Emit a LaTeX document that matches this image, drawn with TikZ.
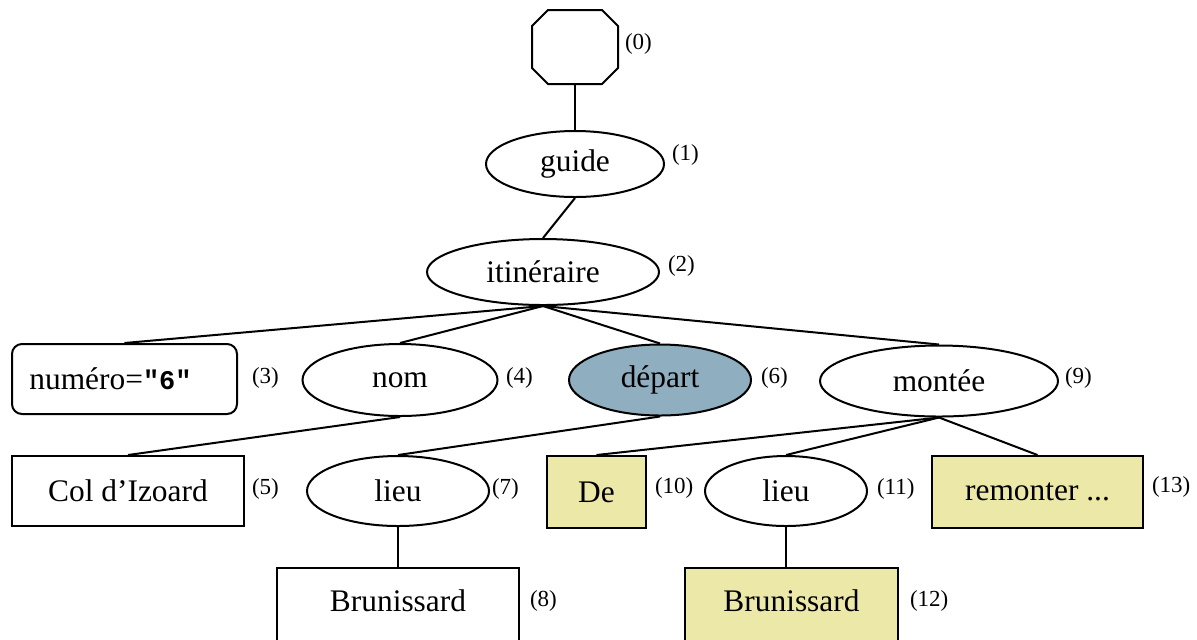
\documentclass[tikz,border=0pt]{standalone}
\usepackage{fontspec}
\setmainfont{Liberation Serif}
\setmonofont{Liberation Mono}
\usetikzlibrary{shapes.geometric}
\definecolor{bluegray}{RGB}{143,174,191}
\definecolor{paleyellow}{RGB}{236,232,168}

\begin{document}
\begin{tikzpicture}[x=0.5pt, y=-0.5pt, line width=1pt,
  every node/.style={inner sep=0pt, font=\fontsize{15.7}{18}\selectfont},
  elem/.style={draw, ellipse, line width=1pt},
  textbox/.style={draw, rectangle, line width=1pt},
  num/.style={anchor=west, font=\fontsize{11.5}{13}\selectfont}]
\useasboundingbox (0,0) rectangle (1197,639);
\node[minimum width=42pt, minimum height=36pt] (root) at (575,47) {};
\draw ([xshift=8pt]root.north west) -- ([xshift=-8pt]root.north east) -- ([yshift=-8pt]root.north east) -- ([yshift=8pt]root.south east) -- ([xshift=-8pt]root.south east) -- ([xshift=8pt]root.south west) -- ([yshift=8pt]root.south west) -- ([yshift=-8pt]root.north west) -- cycle;
\node[elem, minimum width=89pt, minimum height=33pt] (guide) at (575,164) {guide};
\node[elem, minimum width=116pt, minimum height=33pt] (itin) at (543,272) {itinéraire};
\node[textbox, rounded corners=5pt, minimum width=112.5pt, minimum height=35pt] (numero) at (124.5,379) {numéro={\fontsize{13.5}{15}\selectfont\ttfamily\bfseries"6"}\hspace*{14pt}};
\node[elem, minimum width=97.5pt, minimum height=36pt] (nom) at (400,380) {nom};
\node[elem, fill=bluegray, minimum width=91pt, minimum height=35.5pt] (depart) at (660,380) {départ};
\node[elem, minimum width=119pt, minimum height=35.5pt] (montee) at (939,381) {montée};
\node[textbox, minimum width=116pt, minimum height=35pt] (col) at (128,491) {Col d’Izoard};
\node[elem, minimum width=91pt, minimum height=35pt] (lieuA) at (398,491) {lieu};
\node[textbox, fill=paleyellow, minimum width=49.5pt, minimum height=36pt] (de) at (596.5,492) {De};
\node[elem, minimum width=81pt, minimum height=35pt] (lieuB) at (786,491) {lieu};
\node[textbox, fill=paleyellow, minimum width=105.5pt, minimum height=36pt] (remonter) at (1037.5,492) {remonter ...};
\node[textbox, anchor=north, text depth=5pt, minimum width=121pt, minimum height=38pt] (brunA) at (398,567) {Brunissard};
\node[textbox, fill=paleyellow, anchor=north, text depth=5pt, minimum width=106.5pt, minimum height=38pt] (brunB) at (791.5,567) {Brunissard};
% numeros
\node[num] (n0) at (624,44) {(0)};
\node[num] (n1) at (671,155) {(1)};
\node[num] (n2) at (667,266) {(2)};
\node[num] (n3) at (251,378) {(3)};
\node[num] (n4) at (505,378) {(4)};
\node[num] (n5) at (251,489) {(5)};
\node[num] (n6) at (760,378) {(6)};
\node[num] (n7) at (491,489) {(7)};
\node[num] (n8) at (529,601) {(8)};
\node[num] (n9) at (1064,378) {(9)};
\node[num] (n10) at (654,488) {(10)};
\node[num] (n11) at (876,489) {(11)};
\node[num] (n12) at (909,601) {(12)};
\node[num] (n13) at (1151,487) {(13)};
% arbre
\draw (root.south) -- (guide.north);
\draw (guide.south) -- (itin.north);
\draw (itin.south) -- (numero.north);
\draw (itin.south) -- (nom.north);
\draw (itin.south) -- (depart.north);
\draw (itin.south) -- (montee.north);
\draw (nom.south) -- (col.north);
\draw (depart.south) -- (lieuA.north);
\draw (lieuA.south) -- (brunA.north);
\draw (montee.south) -- (de.north);
\draw (montee.south) -- (lieuB.north);
\draw (montee.south) -- (remonter.north);
\draw (lieuB.south) -- (lieuB.south |- brunB.north);
\end{tikzpicture}
\end{document}
